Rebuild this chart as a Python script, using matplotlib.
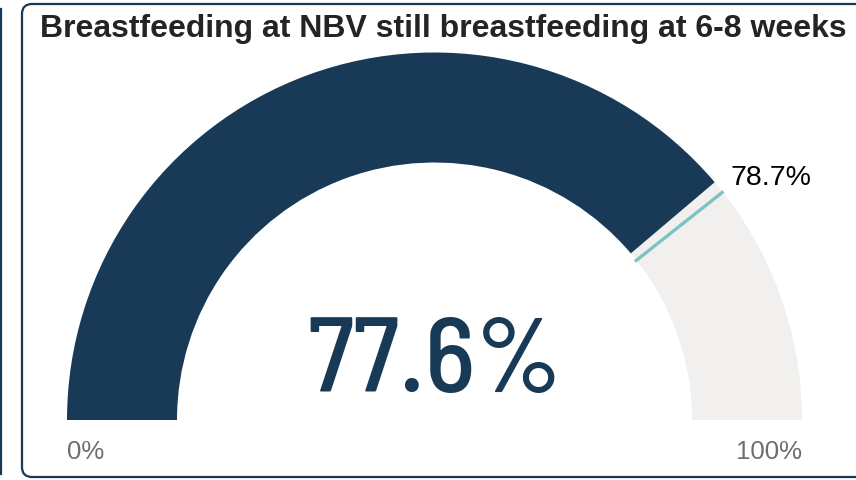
import matplotlib
matplotlib.use("Agg")
import matplotlib.pyplot as plt
from matplotlib.patches import Wedge, FancyBboxPatch
import numpy as np

# 데이터
title = "Breastfeeding at NBV still breastfeeding at 6-8 weeks"
value = 77.6
target = 78.7
min_val = 0
max_val = 100

W, H = 856, 481
navy = "#183A56"
light = "#F1F0EF"
teal = "#7CC4C4"
big_fonts = ["Barlow Semi Condensed", "Barlow", "Saira SemiCondensed", "Liberation Sans"]

fig = plt.figure(figsize=(W / 100, H / 100), dpi=100)
ax = fig.add_axes([0, 0, 1, 1])
ax.set_xlim(0, W)
ax.set_ylim(0, H)
ax.axis("off")

# 카드 테두리
card = FancyBboxPatch((22, 3), 850, 473, boxstyle="round,pad=0,rounding_size=10",
                      fc="white", ec=navy, lw=1.6, zorder=0)
ax.add_patch(card)
ax.plot([1, 1], [6, 471], color=navy, lw=1.6, zorder=0)

# 게이지
cx, cy = 434.5, H - 421
r_out, r_in = 367.5, 257.5

def ang(v):
    return 180 - 180 * (v - min_val) / (max_val - min_val)

ax.add_patch(Wedge((cx, cy), r_out, 0, ang(value), width=r_out - r_in, fc=light, ec="none"))
ax.add_patch(Wedge((cx, cy), r_out, ang(value), 180, width=r_out - r_in, fc=navy, ec="none"))

t = np.radians(ang(target))
ax.plot([cx + (r_in - 2) * np.cos(t), cx + (r_out + 1) * np.cos(t)],
        [cy + (r_in - 2) * np.sin(t), cy + (r_out + 1) * np.sin(t)],
        color=teal, lw=2.4, solid_capstyle="butt")
ax.text(cx + r_out * np.cos(t) + 8, cy + r_out * np.sin(t) + 15, f"{target}%",
        fontsize=20.5, family="Liberation Sans", color="black", ha="left", va="center")

ax.text(cx, H - 392, f"{value}%", fontsize=77, family=big_fonts, weight=500, color=navy,
        ha="center", va="baseline")

ax.text(cx - r_out, H - 459, f"{min_val}%", fontsize=18.5, family="Liberation Sans",
        color="#6E6E6E", ha="left", va="baseline")
ax.text(cx + r_out, H - 459, f"{max_val}%", fontsize=18.5, family="Liberation Sans",
        color="#6E6E6E", ha="right", va="baseline")

ax.text(40, H - 37, title, fontsize=23, family="Liberation Sans", weight="bold",
        color="#252423", ha="left", va="baseline")

fig.savefig("out.png", dpi=100)
